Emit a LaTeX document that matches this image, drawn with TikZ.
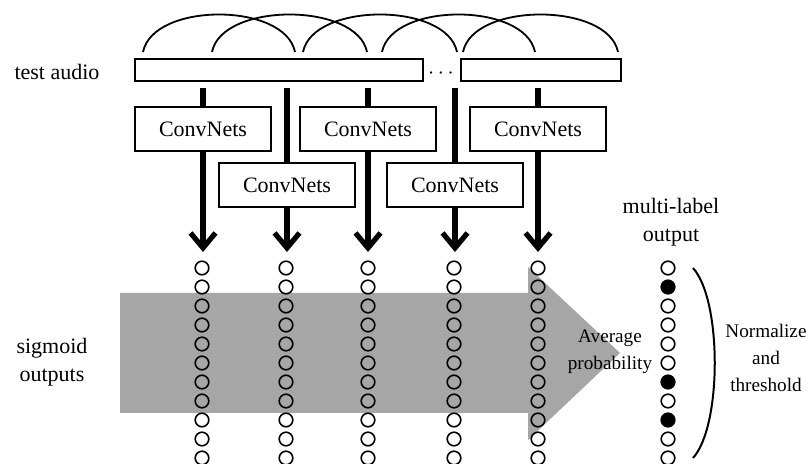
\documentclass[tikz,border=0pt]{standalone}
\usepackage{fontspec}
\setmainfont{Liberation Serif}
\usetikzlibrary{arrows.meta}
\definecolor{arrowgray}{gray}{0.65}
\begin{document}
\begin{tikzpicture}[x=0.5pt,y=-0.5pt,
                    font=\fontsize{11}{14}\selectfont,
                    netbox/.style={draw,line width=1.2pt,minimum width=68pt,minimum height=22pt,inner sep=0pt},
                    bar/.style={draw,line width=1pt,minimum height=11pt,inner sep=0pt},
                    stem/.style={line width=2.6pt},
                    cell/.style={circle,draw,line width=0.8pt,minimum size=6.8pt,inner sep=0pt},
                    cellon/.style={cell,fill=black},
                    lbl/.style={align=center},
                    smalllbl/.style={align=center,font=\fontsize{9.6}{13.5}\selectfont}]

                    \useasboundingbox (0,0) rectangle (808,464);

                    \fill[arrowgray] (120,293) -- (528,293) -- (528,267) -- (620,353) -- (528,440) -- (528,413) -- (120,413) -- cycle;

                    \node (bar1) at (279,70) [bar,minimum width=144pt] {};
                    \node (bar2) at (541,70) [bar,minimum width=80pt] {};
                    \node (dots) at (441,74) {$\cdots$};
                    \node (lblaudio) at (57,72) {test audio};

                    \foreach \a/\b in {143/295,212/367,303/457,382/535,463/618}
                        \draw[line width=0.9pt] (\a,52) .. controls ({\a+10},2) and ({\b-10},2) .. (\b,52);

                    \foreach \i/\x/\y in {1/203/129,2/287/185,3/368/129,4/455/185,5/538/129} {
                        \node (net\i) at (\x,\y) [netbox] {ConvNets};
                        \coordinate (top\i) at (\x,88);
                        \coordinate (tip\i) at (\x,252);
                        \draw[stem] (top\i) -- (net\i);
                        \draw[stem,-{Straight Barb[length=7.5pt,width=12.5pt]}] (net\i) -- (tip\i);
                    }

                    \foreach \x [count=\i] in {202,286,368,454,538}
                        \foreach \r in {1,...,11}
                            \node (c\i-\r) at (\x,{268+19*(\r-1)}) [cell] {};

                    \foreach \r/\s in {1/cell,2/cellon,3/cell,4/cell,5/cell,6/cell,7/cellon,8/cell,9/cellon,10/cell,11/cell}
                        \node (out\r) at (668,{268+19*(\r-1)}) [\s] {};

                    \node (lblmulti) at (671,222) [lbl] {multi-label\\output};
                    \node (lblsig) at (52,362) [lbl] {sigmoid\\outputs};
                    \node (lblavg) at (610,352) [smalllbl] {Average\\probability};
                    \node (lblnorm) at (766,358) [smalllbl] {Normalize\\and\\threshold};

                    \coordinate (brtop) at (693,268);
                    \coordinate (brbot) at (693,458);
                    \draw[line width=1pt] (brtop) .. controls (722,300) and (722,426) .. (brbot);
                \end{tikzpicture}
\end{document}
